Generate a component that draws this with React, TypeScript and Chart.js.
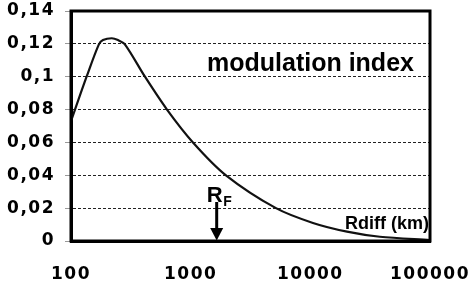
import React, { useEffect, useRef } from "react";
import { Chart, registerables } from "chart.js";

Chart.register(...registerables);

// Distance Rdiff (km) and modulation index
const distances = [100, 108, 135, 171, 185, 219, 247, 282, 415, 634, 1045, 1972, 5164, 10520, 20240, 38100, 100000];
const modIndex = [0.073, 0.08, 0.1, 0.1197, 0.1223, 0.1234, 0.1223, 0.1197, 0.1, 0.08, 0.06, 0.04, 0.02, 0.011, 0.0057, 0.0026, 0.0006];
const xTickValues = [100, 1000, 10000, 100000];
const yMin = 0;
const yMax = 0.14;
const yStep = 0.02;
const rfValue = 1650;
const titleText = "modulation index";
const axisText = "Rdiff (km)";

const TICK_FONT = "'DejaVu Sans', Verdana, sans-serif";
const LABEL_FONT = "'Liberation Sans', Arial, Helvetica, sans-serif";

const spacingPlugin = {
  id: "spacing",
  beforeLayout(chart: any) {
    (chart.ctx as any).letterSpacing = "1.5px";
  },
  beforeDraw(chart: any) {
    (chart.ctx as any).letterSpacing = "1.5px";
  },
};

const decorPlugin = {
  id: "decor",
  afterDatasetsDraw(chart: any) {
    const { ctx, chartArea, scales } = chart;
    const xs = scales.x;
    ctx.save();
    (ctx as any).letterSpacing = "0px";
    // frame
    ctx.strokeStyle = "#000";
    ctx.lineWidth = 3;
    ctx.strokeRect(chartArea.left, chartArea.top, chartArea.right - chartArea.left, chartArea.bottom - chartArea.top);

    // title
    ctx.fillStyle = "#000";
    ctx.font = `bold 25px ${LABEL_FONT}`;
    ctx.textAlign = "left";
    ctx.textBaseline = "alphabetic";
    ctx.fillText(titleText, 207, 70.5);

    // axis label
    ctx.font = `bold 18px ${LABEL_FONT}`;
    ctx.textAlign = "right";
    ctx.fillText(axisText, 429, 228.5);

    // R_F arrow
    const ax = xs.getPixelForValue(rfValue);
    const bottom = chartArea.bottom;
    ctx.lineWidth = 3;
    ctx.beginPath();
    ctx.moveTo(ax, 202);
    ctx.lineTo(ax, bottom - 10);
    ctx.stroke();
    ctx.beginPath();
    ctx.moveTo(ax - 6.5, bottom - 13);
    ctx.lineTo(ax + 6.5, bottom - 13);
    ctx.lineTo(ax, bottom - 0.5);
    ctx.closePath();
    ctx.fill();

    ctx.font = `bold 22px ${LABEL_FONT}`;
    ctx.textAlign = "left";
    ctx.fillText("R", ax - 10, 201.5);
    ctx.font = `bold 14px ${LABEL_FONT}`;
    ctx.fillText("F", ax + 6.5, 205.5);
    ctx.restore();
  },
};

export default function App() {
  const canvasRef = useRef<HTMLCanvasElement | null>(null);

  useEffect(() => {
    const canvas = canvasRef.current;
    if (!canvas) return;
    const chart = new Chart(canvas, {
      type: "line",
      data: {
        datasets: [
          {
            data: distances.map((d, i) => ({ x: d, y: modIndex[i] })),
            borderColor: "#111",
            borderWidth: 2.2,
            pointRadius: 0,
            tension: 0.3,
            fill: false,
          },
        ],
      },
      options: {
        animation: false,
        responsive: true,
        maintainAspectRatio: false,
        devicePixelRatio: 1,
        layout: { padding: { top: 11, right: 42, left: 0, bottom: 0 } },
        plugins: { legend: { display: false }, tooltip: { enabled: false } },
        scales: {
          x: {
            type: "logarithmic",
            min: 100,
            max: 100000,
            afterBuildTicks: (scale: any) => {
              scale.ticks = xTickValues.map((v) => ({ value: v }));
            },
            afterFit: (scale: any) => {
              scale.height = 43;
              scale.paddingLeft = 0;
              scale.paddingRight = 0;
            },
            grid: { display: false },
            border: { display: true, width: 3, color: "#000" },
            ticks: {
              autoSkip: false,
              maxRotation: 0,
              padding: 15,
              color: "#000",
              font: { family: TICK_FONT, size: 17, weight: "bold" },
              callback: (v: any) => String(v),
            },
          },
          y: {
            min: yMin,
            max: yMax,
            afterFit: (scale: any) => {
              scale.width = 71;
              scale.paddingTop = 0;
              scale.paddingBottom = 0;
            },
            grid: {
              color: "#222",
              lineWidth: 1,
              drawTicks: true,
              tickLength: 6,
              tickColor: "#999",
              tickWidth: 1,
            },
            border: { display: true, width: 3, color: "#000", dash: [3, 2] },
            ticks: {
              stepSize: yStep,
              padding: 10,
              color: "#000",
              font: { family: TICK_FONT, size: 17, weight: "bold" },
              callback: (v: any) => {
                const n = Math.round(Number(v) * 100) / 100;
                return String(n).replace(".", ",");
              },
            },
          },
        },
      },
      plugins: [spacingPlugin, decorPlugin],
    } as any);
    return () => chart.destroy();
  }, []);

  return (
    <div style={{ position: "absolute", left: 0, top: 0, width: 472, height: 284, background: "#fff" }}>
      <canvas ref={canvasRef} />
    </div>
  );
}
